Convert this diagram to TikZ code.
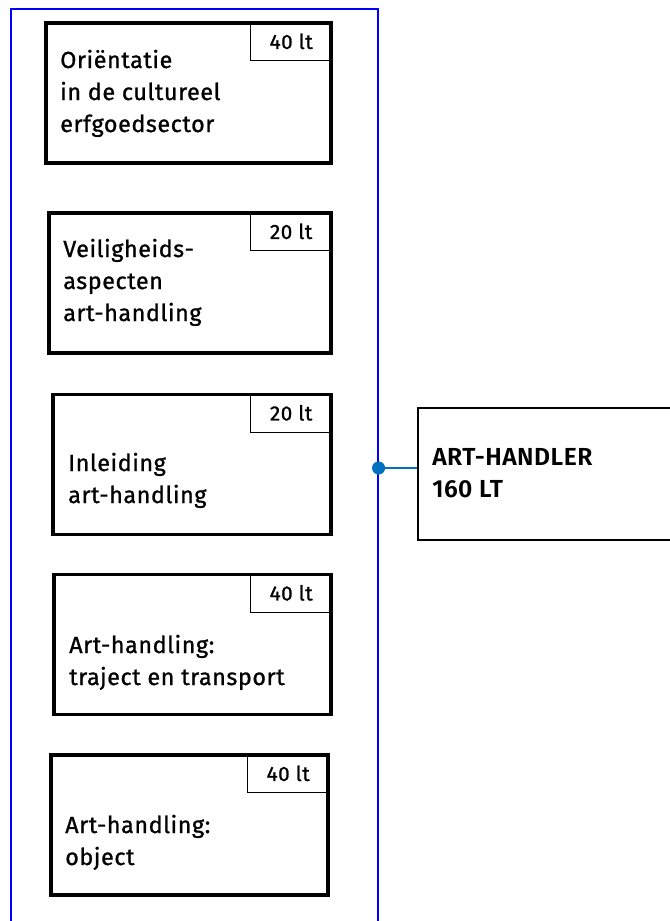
\documentclass[tikz,border=0pt]{standalone}
\usepackage{fontspec}
\setmainfont{Fira Sans}
\newfontfamily\boxfont{Fira Sans}[FakeBold=1, LetterSpace=2.5]
\newfontfamily\headfont{Fira Sans SemiBold}[LetterSpace=2]
\usetikzlibrary{positioning}
\definecolor{linkblue}{RGB}{0,112,192}

\begin{document}
\begin{tikzpicture}
        [x=0.75pt, y=-0.75pt,
        bstyle/.style={draw, line width=2.5pt, minimum height=105pt, inner sep=0pt},
        tstyle/.style={draw, line width=0.75pt, minimum width=61.5pt, minimum height=29.25pt, inner sep=0pt, anchor=north east, font=\boxfont\fontsize{15.5}{16}\selectfont},
        lstyle/.style={anchor=base west, align=left, inner sep=0pt, font=\boxfont\fontsize{17.5}{24}\selectfont},
        hstyle/.style={draw, line width=1.1pt, minimum width=204pt, minimum height=99pt, inner sep=0pt}]

        \useasboundingbox (0,0) rectangle (670,921);
        \clip (0,0) rectangle (670,921);

        \node[draw=blue, line width=1.2pt, minimum width=275.25pt, minimum height=700pt, anchor=north west, inner sep=0pt] (frame) at (10,8) {};

        \node[bstyle, minimum width=213.75pt] (orient) at (188.5,93) {};
        \node[tstyle] (orient-lt) at (orient.north east) {40 lt};
        \node[lstyle] (orient-txt) at (60,132) {Oriëntatie\\in de cultureel\\erfgoedsector};

        \node[bstyle, minimum width=211.5pt] (safety) at (190,283) {};
        \node[tstyle] (safety-lt) at (safety.north east) {20 lt};
        \node[lstyle] (safety-txt) at (63,321) {Veiligheids-\\aspecten\\art-handling};

        \node[bstyle, minimum width=208.5pt] (intro) at (192,464.5) {};
        \node[tstyle] (intro-lt) at (intro.north east) {20 lt};
        \node[lstyle] (intro-txt) at (68,503) {Inleiding\\art-handling};

        \node[bstyle, minimum width=207.75pt] (route) at (192.5,644.5) {};
        \node[tstyle] (route-lt) at (route.north east) {40 lt};
        \node[lstyle] (route-txt) at (69,685) {Art-handling:\\traject en transport};

        \node[bstyle, minimum width=207.75pt] (object) at (189.5,825) {};
        \node[tstyle] (object-lt) at (object.north east) {40 lt};
        \node[lstyle] (object-txt) at (65,865) {Art-handling:\\object};

        \node[hstyle] (handler) at (554,474) {};
        \node[lstyle, font=\headfont\fontsize{18.5}{24}\selectfont] (handler-txt) at (432,497) {ART-HANDLER\\160 LT};

        \coordinate (hub) at (frame.north east |- {(0,468)});
        \draw[linkblue, line width=1.1pt] (hub) -- (hub -| handler.west);
        \fill[linkblue] (hub) circle[radius=4.9pt];
    \end{tikzpicture}
\end{document}
